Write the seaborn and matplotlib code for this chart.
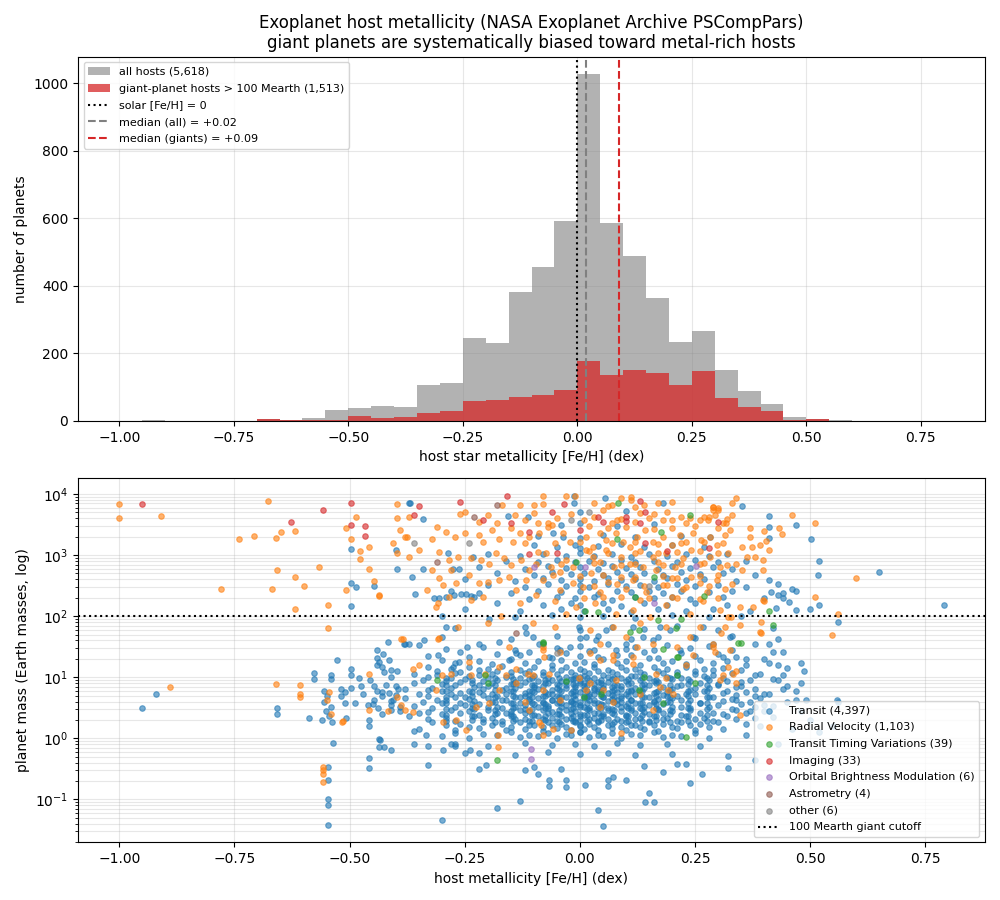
import numpy as np
import pandas as pd
import matplotlib
matplotlib.use("Agg")
import matplotlib.pyplot as plt
import seaborn as sns
from matplotlib.patches import Patch
from matplotlib.lines import Line2D

# ---------------- histogram data (bins of 0.05 dex, left edges) ----------------
bin_left = [-1.00, -0.95, -0.90, -0.85, -0.80, -0.75, -0.70, -0.65, -0.60, -0.55,
            -0.50, -0.45, -0.40, -0.35, -0.30, -0.25, -0.20, -0.15, -0.10, -0.05,
            0.00, 0.05, 0.10, 0.15, 0.20, 0.25, 0.30, 0.35, 0.40, 0.45,
            0.50, 0.55, 0.60, 0.65, 0.70, 0.75]
all_counts = [0, 2, 0, 0, 0, 0, 5, 4, 10, 32,
              39, 45, 40, 105, 113, 247, 231, 383, 456, 593,
              1027, 587, 488, 364, 233, 267, 150, 89, 50, 11,
              5, 2, 0, 0, 0, 0]
giant_counts = [0, 1, 0, 0, 0, 0, 5, 3, 2, 3,
                15, 8, 12, 25, 28, 58, 62, 72, 78, 92,
                178, 136, 152, 141, 105, 149, 69, 42, 28, 4,
                5, 0, 0, 0, 0, 0]
bin_width = 0.05
median_all = 0.02
median_giants = 0.09
n_all = "5,618"
n_giants = "1,513"

# ---------------- scatter data: (host [Fe/H], log10 planet mass [Earth]) ----------------
transit_core = [
    (-0.27,1.80),(-0.12,1.83),(0.00,1.78),(0.07,1.82),(0.14,1.79),(0.21,1.84),(0.30,1.78),(0.42,1.81),
    (-0.30,1.66),(-0.15,1.63),(-0.05,1.68),(0.00,1.64),(0.04,1.67),(0.11,1.62),(0.17,1.66),(0.25,1.64),(0.33,1.68),(0.43,1.63),
    (-0.35,1.53),(-0.21,1.50),(-0.08,1.54),(0.00,1.51),(0.06,1.55),(0.12,1.49),(0.19,1.53),(0.28,1.51),(0.38,1.54),
    (-0.26,1.41),(-0.18,1.38),(-0.11,1.42),(-0.03,1.39),(0.02,1.43),(0.08,1.37),(0.14,1.41),(0.22,1.40),(0.30,1.38),(0.44,1.42),
    (-0.30,1.29),(-0.22,1.26),(-0.15,1.30),(-0.09,1.27),(-0.04,1.29),(0.01,1.25),(0.05,1.30),(0.10,1.27),(0.15,1.31),(0.20,1.26),(0.26,1.29),(0.32,1.27),(0.40,1.30),
    (-0.33,1.16),(-0.28,1.13),(-0.24,1.17),(-0.20,1.14),(-0.17,1.18),(-0.13,1.12),(-0.10,1.16),(-0.06,1.14),(-0.03,1.17),(0.00,1.13),(0.03,1.16),(0.06,1.12),(0.09,1.17),(0.12,1.14),(0.16,1.16),(0.19,1.13),(0.23,1.17),(0.27,1.14),(0.31,1.15),(0.35,1.12),
    (-0.36,1.06),(-0.31,1.03),(-0.27,1.07),(-0.22,1.04),(-0.19,1.06),(-0.15,1.02),(-0.12,1.07),(-0.08,1.04),(-0.05,1.06),(-0.01,1.03),(0.02,1.07),(0.05,1.04),(0.08,1.06),(0.11,1.02),(0.14,1.05),(0.18,1.07),(0.21,1.03),(0.25,1.06),(0.29,1.04),(0.33,1.07),(0.38,1.03),
    (-0.34,0.96),(-0.29,0.93),(-0.25,0.97),(-0.21,0.94),(-0.18,0.96),(-0.14,0.92),(-0.11,0.97),(-0.09,0.94),(-0.06,0.96),(-0.04,0.93),(-0.02,0.97),(0.00,0.94),(0.02,0.96),(0.04,0.92),(0.07,0.97),(0.10,0.94),(0.13,0.96),(0.16,0.93),(0.20,0.97),(0.24,0.94),(0.28,0.96),(0.32,0.93),(0.37,0.95),(0.42,0.97),
    (-0.40,0.86),(-0.32,0.83),(-0.27,0.87),(-0.23,0.84),(-0.20,0.86),(-0.16,0.82),(-0.13,0.87),(-0.10,0.84),(-0.08,0.86),(-0.05,0.83),(-0.03,0.87),(-0.01,0.84),(0.01,0.86),(0.03,0.82),(0.05,0.87),(0.07,0.84),(0.09,0.86),(0.12,0.83),(0.15,0.87),(0.18,0.84),(0.21,0.86),(0.25,0.83),(0.30,0.87),(0.34,0.84),(0.45,0.86),
    (-0.43,0.76),(-0.35,0.73),(-0.30,0.77),(-0.26,0.74),(-0.22,0.76),(-0.19,0.72),(-0.15,0.77),(-0.12,0.74),(-0.10,0.76),(-0.07,0.73),(-0.04,0.77),(-0.02,0.74),(0.00,0.76),(0.02,0.72),(0.04,0.77),(0.06,0.74),(0.08,0.76),(0.10,0.73),(0.13,0.77),(0.16,0.74),(0.19,0.76),(0.23,0.72),(0.27,0.77),(0.31,0.74),(0.36,0.76),(0.40,0.73),
    (-0.38,0.66),(-0.31,0.63),(-0.27,0.67),(-0.24,0.64),(-0.20,0.66),(-0.17,0.62),(-0.14,0.67),(-0.11,0.64),(-0.09,0.66),(-0.06,0.63),(-0.04,0.67),(-0.01,0.64),(0.01,0.66),(0.03,0.62),(0.05,0.67),(0.07,0.64),(0.09,0.66),(0.11,0.63),(0.14,0.67),(0.17,0.64),(0.20,0.66),(0.24,0.62),(0.28,0.67),(0.33,0.64),(0.39,0.66),(0.47,0.63),
    (-0.45,0.56),(-0.36,0.53),(-0.30,0.57),(-0.25,0.54),(-0.22,0.56),(-0.18,0.52),(-0.15,0.57),(-0.12,0.54),(-0.10,0.56),(-0.07,0.53),(-0.05,0.57),(-0.03,0.54),(-0.01,0.56),(0.01,0.52),(0.03,0.57),(0.05,0.54),(0.08,0.56),(0.10,0.53),(0.12,0.57),(0.15,0.54),(0.18,0.56),(0.22,0.52),(0.26,0.57),(0.30,0.54),(0.35,0.56),(0.42,0.53),
    (-0.41,0.46),(-0.33,0.43),(-0.28,0.47),(-0.24,0.44),(-0.20,0.46),(-0.16,0.42),(-0.13,0.47),(-0.11,0.44),(-0.08,0.46),(-0.06,0.43),(-0.03,0.47),(-0.01,0.44),(0.02,0.46),(0.04,0.42),(0.06,0.47),(0.09,0.44),(0.11,0.46),(0.14,0.43),(0.17,0.47),(0.20,0.44),(0.24,0.46),(0.29,0.42),(0.34,0.47),(0.40,0.44),
    (-0.37,0.36),(-0.29,0.33),(-0.23,0.37),(-0.19,0.34),(-0.15,0.36),(-0.12,0.32),(-0.09,0.37),(-0.06,0.34),(-0.04,0.36),(-0.02,0.33),(0.00,0.37),(0.03,0.34),(0.05,0.36),(0.08,0.32),(0.10,0.37),(0.13,0.34),(0.16,0.36),(0.19,0.33),(0.23,0.37),(0.27,0.34),(0.32,0.36),(0.38,0.33),
    (-0.32,0.26),(-0.26,0.23),(-0.21,0.27),(-0.17,0.24),(-0.13,0.26),(-0.10,0.22),(-0.07,0.27),(-0.04,0.24),(-0.01,0.26),(0.02,0.23),(0.04,0.27),(0.07,0.24),(0.10,0.26),(0.12,0.22),(0.15,0.27),(0.18,0.24),(0.22,0.26),(0.26,0.23),(0.30,0.27),(0.36,0.24),
    (-0.35,0.16),(-0.27,0.13),(-0.22,0.17),(-0.16,0.14),(-0.12,0.16),(-0.08,0.12),(-0.05,0.17),(-0.02,0.14),(0.01,0.16),(0.04,0.13),(0.07,0.17),(0.10,0.14),(0.14,0.16),(0.17,0.12),(0.21,0.17),(0.25,0.14),(0.31,0.16),
    (-0.30,0.04),(-0.24,0.01),(-0.18,0.05),(-0.13,0.02),(-0.09,0.04),(-0.05,0.00),(-0.02,0.05),(0.02,0.02),(0.05,0.04),(0.09,0.01),(0.13,0.05),(0.18,0.02),(0.22,0.04),(0.28,0.01),
    (-0.27,-0.09),(-0.20,-0.12),(-0.12,-0.08),(-0.06,-0.11),(-0.01,-0.09),(0.03,-0.13),(0.08,-0.08),(0.13,-0.11),(0.19,-0.09),(0.26,-0.12),
    (-0.22,-0.24),(-0.14,-0.27),(-0.07,-0.23),(0.00,-0.26),(0.06,-0.24),(0.12,-0.28),(0.20,-0.25),
    (-0.02,0.60),(0.02,0.70),(0.06,0.50),(0.00,0.40),(0.04,0.80),(-0.05,0.70),(0.08,0.62),(0.11,0.78),(-0.08,0.58),(0.13,0.50),
    (0.16,0.60),(0.19,0.70),(-0.12,0.70),(-0.15,0.45),(0.00,0.90),(0.00,1.00),(0.00,0.20),(0.00,0.10),(0.00,0.55),(0.00,0.30),
]
transit_core_fill = [
    (-0.31,1.11),(-0.26,1.09),(-0.22,1.12),(-0.18,1.10),(-0.15,1.08),(-0.11,1.11),(-0.08,1.09),(-0.04,1.12),(-0.02,1.08),(0.01,1.10),
    (0.04,1.11),(0.07,1.08),(0.10,1.12),(0.13,1.09),(0.17,1.11),(0.21,1.08),(0.25,1.10),(0.29,1.12),
    (-0.33,1.01),(-0.28,0.99),(-0.24,1.02),(-0.20,0.98),(-0.16,1.01),(-0.13,0.99),(-0.10,1.02),(-0.07,0.98),(-0.03,1.01),(-0.01,0.99),
    (0.01,1.02),(0.03,0.98),(0.06,1.01),(0.09,0.99),(0.12,1.02),(0.15,0.98),(0.19,1.01),(0.22,0.99),(0.27,1.02),(0.31,0.98),
    (-0.36,0.91),(-0.30,0.89),(-0.26,0.92),(-0.22,0.88),(-0.19,0.91),(-0.15,0.89),(-0.12,0.92),(-0.10,0.88),(-0.07,0.91),(-0.05,0.89),
    (-0.03,0.92),(-0.01,0.88),(0.01,0.91),(0.03,0.89),(0.06,0.92),(0.08,0.88),(0.11,0.91),(0.14,0.89),(0.17,0.92),(0.22,0.88),
    (0.26,0.91),(0.30,0.89),(0.35,0.92),
    (-0.38,0.81),(-0.33,0.79),(-0.28,0.82),(-0.24,0.78),(-0.21,0.81),(-0.17,0.79),(-0.14,0.82),(-0.11,0.78),(-0.09,0.81),(-0.06,0.79),
    (-0.03,0.82),(-0.01,0.78),(0.01,0.81),(0.03,0.79),(0.05,0.82),(0.07,0.78),(0.09,0.81),(0.11,0.79),(0.14,0.82),(0.17,0.78),
    (0.20,0.81),(0.24,0.79),(0.28,0.82),(0.32,0.78),(0.38,0.81),
    (-0.40,0.71),(-0.33,0.69),(-0.28,0.72),(-0.25,0.68),(-0.21,0.71),(-0.18,0.69),(-0.16,0.72),(-0.13,0.68),(-0.11,0.71),(-0.08,0.69),
    (-0.06,0.72),(-0.03,0.68),(-0.01,0.71),(0.01,0.69),(0.03,0.72),(0.05,0.68),(0.07,0.71),(0.09,0.69),(0.12,0.72),(0.15,0.68),
    (0.18,0.71),(0.21,0.69),(0.25,0.72),(0.29,0.68),(0.34,0.71),
    (-0.41,0.61),(-0.34,0.59),(-0.29,0.62),(-0.26,0.58),(-0.23,0.61),(-0.19,0.59),(-0.16,0.62),(-0.13,0.58),(-0.11,0.61),(-0.08,0.59),
    (-0.06,0.62),(-0.04,0.58),(-0.02,0.61),(0.00,0.59),(0.02,0.62),(0.04,0.58),(0.06,0.61),(0.09,0.59),(0.11,0.62),(0.13,0.58),
    (0.16,0.61),(0.19,0.59),(0.22,0.62),(0.26,0.58),(0.31,0.61),(0.37,0.59),
    (-0.39,0.51),(-0.32,0.49),(-0.27,0.52),(-0.23,0.48),(-0.20,0.51),(-0.17,0.49),(-0.14,0.52),(-0.12,0.48),(-0.09,0.51),(-0.07,0.49),
    (-0.04,0.52),(-0.02,0.48),(0.00,0.51),(0.02,0.49),(0.04,0.52),(0.07,0.48),(0.09,0.51),(0.11,0.49),(0.14,0.52),(0.17,0.48),
    (0.20,0.51),(0.24,0.49),(0.28,0.52),(0.33,0.48),(0.38,0.51),
    (-0.35,0.41),(-0.30,0.39),(-0.26,0.42),(-0.22,0.38),(-0.18,0.41),(-0.15,0.39),(-0.12,0.42),(-0.10,0.38),(-0.07,0.41),(-0.05,0.39),
    (-0.02,0.42),(0.01,0.38),(0.03,0.41),(0.05,0.39),(0.07,0.42),(0.10,0.38),(0.12,0.41),(0.15,0.39),(0.18,0.42),(0.22,0.38),
    (0.26,0.41),(0.31,0.39),(0.36,0.42),
    (-0.33,0.31),(-0.27,0.29),(-0.21,0.32),(-0.17,0.28),(-0.14,0.31),(-0.11,0.29),(-0.08,0.32),(-0.05,0.28),(-0.03,0.31),(-0.01,0.29),
    (0.02,0.32),(0.04,0.28),(0.06,0.31),(0.09,0.29),(0.12,0.32),(0.15,0.28),(0.18,0.31),(0.21,0.29),(0.25,0.32),(0.29,0.28),(0.34,0.31),
    (-0.29,0.21),(-0.24,0.19),(-0.19,0.22),(-0.15,0.18),(-0.11,0.21),(-0.08,0.19),(-0.06,0.22),(-0.03,0.18),(0.00,0.21),(0.03,0.19),
    (0.06,0.22),(0.09,0.18),(0.11,0.21),(0.13,0.19),(0.16,0.22),(0.20,0.18),(0.24,0.21),(0.28,0.19),
    (-0.27,0.09),(-0.21,0.07),(-0.15,0.10),(-0.11,0.06),(-0.07,0.09),(-0.03,0.07),(0.00,0.10),(0.04,0.06),(0.07,0.09),(0.11,0.07),
    (0.16,0.10),(0.20,0.06),(0.25,0.09),
    (-0.27,1.23),(-0.19,1.21),(-0.12,1.24),(-0.06,1.20),(-0.01,1.23),(0.03,1.21),(0.08,1.24),(0.13,1.20),(0.18,1.23),(0.23,1.21),
    (0.29,1.24),(0.36,1.20),
    (-0.33,1.35),(-0.24,1.33),(-0.13,1.36),(-0.06,1.32),(0.00,1.35),(0.04,1.33),(0.11,1.36),(0.17,1.32),(0.25,1.35),(0.34,1.33),
    (-0.29,1.47),(-0.14,1.45),(-0.05,1.48),(0.03,1.44),(0.10,1.47),(0.16,1.45),(0.24,1.48),(0.33,1.44),
]
transit_core_dense = [
    (-0.290,0.98),(-0.235,0.96),(-0.185,0.99),(-0.145,0.97),(-0.105,0.98),(-0.075,0.96),(-0.045,0.99),(-0.015,0.97),(0.015,0.98),
    (0.045,0.96),(0.075,0.99),(0.105,0.97),(0.135,0.98),(0.165,0.96),(0.195,0.99),(0.235,0.97),(0.275,0.98),
    (-0.290,0.88),(-0.235,0.90),(-0.185,0.87),(-0.145,0.89),(-0.105,0.88),(-0.075,0.90),(-0.045,0.87),(-0.015,0.89),(0.015,0.88),
    (0.045,0.90),(0.075,0.87),(0.105,0.89),(0.135,0.88),(0.165,0.90),(0.195,0.87),(0.235,0.89),(0.275,0.88),
    (-0.290,0.78),(-0.235,0.76),(-0.185,0.79),(-0.145,0.77),(-0.105,0.78),(-0.075,0.76),(-0.045,0.79),(-0.015,0.77),(0.015,0.78),
    (0.045,0.76),(0.075,0.79),(0.105,0.77),(0.135,0.78),(0.165,0.76),(0.195,0.79),(0.235,0.77),(0.275,0.78),
    (-0.290,0.68),(-0.235,0.70),(-0.185,0.67),(-0.145,0.69),(-0.105,0.68),(-0.075,0.70),(-0.045,0.67),(-0.015,0.69),(0.015,0.68),
    (0.045,0.70),(0.075,0.67),(0.105,0.69),(0.135,0.68),(0.165,0.70),(0.195,0.67),(0.235,0.69),(0.275,0.68),
    (-0.290,0.58),(-0.235,0.56),(-0.185,0.59),(-0.145,0.57),(-0.105,0.58),(-0.075,0.56),(-0.045,0.59),(-0.015,0.57),(0.015,0.58),
    (0.045,0.56),(0.075,0.59),(0.105,0.57),(0.135,0.58),(0.165,0.56),(0.195,0.59),(0.235,0.57),(0.275,0.58),
    (-0.290,0.48),(-0.235,0.50),(-0.185,0.47),(-0.145,0.49),(-0.105,0.48),(-0.075,0.50),(-0.045,0.47),(-0.015,0.49),(0.015,0.48),
    (0.045,0.50),(0.075,0.47),(0.105,0.49),(0.135,0.48),(0.165,0.50),(0.195,0.47),(0.235,0.49),(0.275,0.48),
    (-0.290,0.38),(-0.235,0.36),(-0.185,0.39),(-0.145,0.37),(-0.105,0.38),(-0.075,0.36),(-0.045,0.39),(-0.015,0.37),(0.015,0.38),
    (0.045,0.36),(0.075,0.39),(0.105,0.37),(0.135,0.38),(0.165,0.36),(0.195,0.39),(0.235,0.37),(0.275,0.38),
    (-0.290,0.28),(-0.235,0.30),(-0.185,0.27),(-0.145,0.29),(-0.105,0.28),(-0.075,0.30),(-0.045,0.27),(-0.015,0.29),(0.015,0.28),
    (0.045,0.30),(0.075,0.27),(0.105,0.29),(0.135,0.28),(0.165,0.30),(0.195,0.27),(0.235,0.29),(0.275,0.28),
]
transit_giant = [
    (0.00,3.70),(0.10,3.72),
    (-0.04,3.49),(0.00,3.52),(0.08,3.47),(0.16,3.51),
    (-0.09,3.31),(0.00,3.28),(0.05,3.33),(0.12,3.29),(0.22,3.32),
    (-0.10,3.16),(-0.05,3.13),(-0.01,3.17),(0.00,3.12),(0.04,3.15),(0.09,3.18),(0.14,3.13),(0.20,3.16),(0.27,3.14),
    (-0.20,3.01),(-0.13,2.98),(-0.08,3.02),(-0.03,2.99),(0.00,3.03),(0.03,2.98),(0.07,3.01),(0.11,2.97),(0.15,3.02),(0.19,2.99),(0.23,3.01),(0.28,2.98),(0.32,3.02),
    (-0.16,2.91),(-0.09,2.88),(-0.05,2.92),(-0.01,2.89),(0.02,2.91),(0.05,2.87),(0.09,2.92),(0.12,2.89),(0.16,2.91),(0.21,2.88),(0.25,2.92),(0.30,2.89),(0.36,2.90),
    (-0.22,2.81),(-0.12,2.78),(-0.07,2.82),(-0.03,2.79),(0.00,2.81),(0.04,2.77),(0.07,2.82),(0.10,2.79),(0.13,2.81),(0.17,2.78),(0.20,2.82),(0.24,2.79),(0.29,2.81),(0.33,2.78),
    (-0.18,2.71),(-0.10,2.68),(-0.06,2.72),(-0.02,2.69),(0.01,2.71),(0.05,2.67),(0.08,2.72),(0.11,2.69),(0.14,2.71),(0.18,2.68),(0.22,2.72),(0.26,2.69),(0.31,2.71),(0.38,2.68),
    (-0.25,2.61),(-0.14,2.58),(-0.08,2.62),(-0.04,2.59),(0.00,2.61),(0.03,2.57),(0.06,2.62),(0.09,2.59),(0.12,2.61),(0.16,2.58),(0.19,2.62),(0.23,2.59),(0.27,2.61),(0.34,2.58),(0.41,2.60),
    (-0.20,2.51),(-0.12,2.48),(-0.07,2.52),(-0.03,2.49),(0.00,2.51),(0.02,2.47),(0.06,2.52),(0.10,2.49),(0.13,2.51),(0.17,2.48),(0.21,2.52),(0.25,2.49),(0.30,2.51),(0.36,2.48),
    (-0.28,2.41),(-0.15,2.38),(-0.09,2.42),(-0.04,2.39),(0.00,2.41),(0.04,2.37),(0.08,2.42),(0.11,2.39),(0.15,2.41),(0.18,2.38),(0.22,2.42),(0.28,2.39),(0.33,2.41),(0.44,2.38),
    (-0.23,2.31),(-0.11,2.28),(-0.05,2.32),(-0.01,2.29),(0.03,2.31),(0.07,2.27),(0.12,2.32),(0.16,2.29),(0.20,2.31),(0.24,2.28),(0.31,2.32),(0.40,2.29),
    (-0.18,2.21),(-0.08,2.18),(-0.02,2.22),(0.00,2.19),(0.05,2.21),(0.09,2.17),(0.14,2.22),(0.19,2.19),(0.25,2.21),(0.32,2.18),
    (-0.25,2.11),(-0.13,2.08),(-0.04,2.12),(0.01,2.09),(0.06,2.11),(0.11,2.07),(0.17,2.12),(0.23,2.09),(0.29,2.11),(0.37,2.08),
    (-0.30,2.01),(-0.14,1.98),(-0.06,2.02),(0.00,1.99),(0.05,2.01),(0.12,1.97),(0.20,2.02),(0.28,1.99),(0.35,2.01),
    (-0.37,3.86),(-0.34,3.59),(-0.287,3.04),(-0.34,2.77),(-0.365,2.64),(-0.358,2.37),(-0.316,2.30),(-0.305,2.29),(-0.291,2.32),
    (-0.273,2.34),(-0.258,2.36),(-0.247,2.37),(-0.236,2.33),(-0.218,2.38),(-0.276,2.78),(-0.263,2.78),(-0.233,2.97),(-0.157,3.64),
    (-0.113,3.63),(-0.059,3.36),(-0.037,3.30),(-0.012,3.85),(-0.012,3.96),(0.054,3.94),(0.18,3.85),(0.282,3.30),
    (-0.381,1.55),(-0.371,1.55),(-0.339,1.61),(-0.309,1.36),(-0.291,1.83),(-0.276,1.17),(-0.262,1.25),(-0.244,1.50),(-0.218,1.55),
    (-0.197,1.96),(-0.175,1.58),(-0.153,1.28),(-0.139,1.39),(-0.117,1.72),(-0.102,1.66),(-0.088,1.55),(-0.066,1.33),(-0.044,1.44),
    (-0.022,1.50),(-0.001,1.83),(0.014,1.66),(0.036,1.61),(0.057,1.77),(0.079,1.44),(0.101,1.55),(0.115,1.83),(0.137,1.66),
    (0.159,1.61),(0.173,1.83),(0.195,1.77),(0.217,1.44),(0.246,1.66),(0.268,1.83),(0.289,1.55),(0.311,1.33),(0.326,1.66),
]
transit_halo = [
    (-0.920,0.72),(-0.950,0.50),(-0.657,0.50),(-0.657,0.40),(-0.588,0.34),(-0.528,1.28),(-0.578,1.07),(-0.578,0.97),
    (-0.541,1.03),(-0.541,0.97),(-0.537,-0.07),(-0.547,-0.47),(-0.547,-0.69),(-0.547,-1.00),(-0.547,-1.09),(-0.547,-1.42),
    (-0.497,1.14),(-0.497,1.03),(-0.480,0.99),(-0.497,0.83),(-0.518,0.81),(-0.510,0.75),(-0.518,0.69),(-0.510,0.57),
    (-0.508,0.34),(-0.458,-0.33),(-0.458,-0.49),(-0.458,0.30),(-0.458,0.20),(-0.437,-0.01),(-0.433,-0.02),(-0.437,-0.15),
    (-0.425,-0.15),(-0.410,-0.19),
    (-0.555,0.77),(-0.548,0.70),(-0.556,0.60),(-0.540,0.52),(-0.552,0.45),(-0.545,0.36),(-0.560,0.30),(-0.538,0.27),
    (-0.455,0.95),(-0.447,0.85),(-0.440,0.78),(-0.430,0.70),(-0.447,0.62),(-0.460,0.55),(-0.438,0.50),(-0.420,0.88),
    (-0.415,0.74),(-0.405,0.63),(-0.410,0.54),(-0.395,0.80),(-0.390,0.44),(-0.430,0.40),(-0.475,0.86),(-0.470,0.72),
    (-0.488,0.58),(-0.410,1.00),(-0.398,1.10),(-0.440,1.45),(-0.440,1.32),(-0.428,1.38),(-0.417,1.58),(-0.380,1.54),
    (-0.437,1.25),(-0.440,1.20),(-0.430,1.17),(-0.415,1.28),(-0.425,1.09),(-0.410,1.12),
    (-0.497,3.10),(-0.400,3.09),(-0.396,2.77),(-0.497,2.54),(-0.487,2.47),(-0.447,2.49),(-0.497,2.16),(-0.369,3.86),
    (-0.330,-0.44),(-0.300,-1.33),(-0.180,-1.14),(-0.129,-1.02),(-0.220,-0.50),(-0.204,-0.43),(0.040,-1.18),(0.050,-1.43),
    (0.150,-0.89),(0.141,-1.05),(0.161,-1.05),(0.240,-0.73),(0.265,-0.58),(0.322,-0.29),(0.322,-0.49),(0.230,-0.42),
    (0.210,-0.42),(-0.068,-0.78),(-0.068,-0.69),(-0.030,-0.80),(-0.030,-0.68),(0.011,-0.77),(0.061,-0.78),(0.061,-0.68),
    (0.072,-0.63),(0.100,-0.69),(0.180,-0.56),(0.140,-0.46),(-0.120,-0.52),(-0.100,-0.47),(-0.090,-0.58),(-0.040,-0.51),
    (-0.238,-0.19),(-0.270,-0.13),(-0.280,-0.10),(-0.250,-0.24),(-0.360,0.12),(-0.360,-0.09),(-0.334,0.05),(-0.330,-0.13),
    (-0.298,-0.19),
    (0.351,3.80),(0.411,3.64),(0.411,3.46),(0.411,3.28),(0.470,3.50),(0.501,3.27),(0.520,2.90),(0.516,2.67),
    (0.650,2.73),(0.790,2.19),(0.520,2.19),(0.500,2.11),(0.470,2.10),(0.455,2.23),(0.560,1.91),(0.460,2.45),
    (0.470,2.41),(0.430,2.53),(0.430,2.34),(0.440,2.29),(0.415,2.39),(0.425,2.13),(0.480,1.24),(0.487,1.11),
    (0.480,0.91),(0.430,1.20),(0.440,1.04),(0.440,0.80),(0.430,0.95),(0.559,0.63),(0.410,1.55),(0.420,1.42),
    (0.410,1.24),(0.350,0.85),(0.380,0.70),(0.400,0.55),(0.370,0.45),(0.420,0.35),(0.450,0.60),(0.480,0.45),
    (0.500,0.30),(0.460,0.15),(0.390,0.20),(0.360,0.05),(0.430,-0.10),(0.520,0.10),(0.550,0.20),(0.410,0.72),
    (0.470,0.78),(0.340,0.62),(0.360,1.30),(0.390,1.05),(0.450,1.15),(0.490,0.62),(0.560,0.60),(0.380,-0.35),
]
rv_outer = [
    (-1.000,3.83),(-1.000,3.60),(-0.909,3.64),(-0.678,3.88),(-0.739,3.26),(-0.708,3.32),(-0.659,3.28),(-0.649,3.38),
    (-0.618,3.40),(-0.657,2.75),(-0.618,2.64),(-0.567,2.80),(-0.598,2.50),(-0.669,2.44),(-0.779,2.45),(-0.547,2.19),
    (-0.618,2.11),(-0.547,1.80),(-0.508,2.43),(-0.508,3.44),(-0.487,3.62),(-0.497,3.27),(-0.477,3.06),(-0.477,2.93),
    (-0.458,3.13),(-0.458,2.78),(-0.447,2.57),(-0.437,2.33),(-0.435,2.35),(-0.396,3.83),(-0.396,3.61),(-0.406,3.20),
    (-0.396,3.03),(-0.376,3.29),(-0.385,1.63),
    (0.461,3.66),(0.510,3.52),(0.600,2.63),(0.510,2.32),(0.560,2.04),(0.547,1.69),(0.432,3.45),(0.438,3.35),
    (0.411,3.08),(0.400,3.39),(0.405,3.23),(0.370,3.44),(0.370,3.30),(0.373,3.14),(0.391,3.16),(0.398,2.92),
    (0.400,2.25),(0.393,1.91),(0.393,1.72),(0.340,3.93),(0.331,3.86),(0.289,3.78),(0.300,3.74),(0.293,3.66),
    (0.278,3.57),(0.318,3.52),(0.325,3.41),(0.351,3.14),(0.362,2.97),(0.340,2.86),(0.351,2.75),(0.380,2.97),
    (0.398,2.75),(0.398,2.26),(0.376,2.15),(0.347,2.15),(0.329,1.99),(0.391,1.74),(0.347,1.85),(0.307,1.72),
    (0.289,1.50),(0.325,1.44),(0.340,1.11),(0.304,0.95),
]
rv_giant = [
    (-0.17,3.82),(-0.13,3.82),(-0.10,3.82),(-0.08,3.97),(-0.08,3.83),(-0.03,3.97),(-0.01,3.96),(0.03,3.85),(0.06,3.80),(0.07,3.82),
    (0.09,3.93),(0.11,3.90),(0.11,3.95),(0.12,3.79),(0.14,3.82),(0.17,3.86),(0.20,3.87),(0.26,3.92),(0.29,3.78),(0.30,3.77),
    (-0.37,3.63),(-0.26,3.68),(-0.25,3.71),(-0.22,3.55),(-0.20,3.66),(-0.18,3.52),(-0.14,3.66),(-0.12,3.57),(-0.10,3.69),(-0.09,3.52),
    (-0.07,3.53),(-0.06,3.49),(-0.02,3.68),(0.01,3.57),(0.05,3.74),(0.07,3.53),(0.08,3.57),(0.12,3.55),(0.13,3.69),(0.16,3.68),
    (0.19,3.71),(0.20,3.57),(0.22,3.63),(0.23,3.52),(0.26,3.57),(0.28,3.63),(0.29,3.74),(0.31,3.52),(0.33,3.66),
    (-0.39,3.41),(-0.38,3.30),(-0.32,3.27),(-0.31,3.46),(-0.29,3.38),(-0.27,3.30),(-0.25,3.36),(-0.22,3.33),(-0.21,3.22),(-0.19,3.41),
    (-0.175,3.27),(-0.146,3.22),(-0.131,3.36),(-0.11,3.30),(-0.088,3.36),(-0.07,3.46),(-0.055,3.19),(-0.037,3.36),(-0.022,3.22),(0.014,3.30),
    (0.028,3.14),(0.043,3.36),(0.057,3.25),(0.079,3.36),(0.094,3.22),(0.108,3.14),(0.123,3.30),(0.141,3.41),(0.159,3.22),(0.181,3.30),
    (0.199,3.16),(0.217,3.33),(0.231,3.22),(0.246,3.36),(0.264,3.25),(0.282,3.30),(0.297,3.16),(0.315,3.33),
    (-0.371,2.97),(-0.349,3.08),(-0.305,3.05),(-0.284,2.92),(-0.265,2.97),(-0.236,2.95),(-0.215,2.92),(-0.197,2.86),(-0.182,3.03),(-0.164,2.95),
    (-0.149,2.84),(-0.128,2.92),(-0.110,2.75),(-0.095,2.86),(-0.073,3.03),(-0.062,2.81),(-0.044,2.73),(-0.030,2.92),(-0.015,2.81),(0.014,3.08),
    (0.028,2.97),(0.043,2.89),(0.057,3.08),(0.075,2.81),(0.090,2.97),(0.108,2.86),(0.119,3.03),(0.137,2.81),(0.159,2.97),(0.170,2.89),
    (0.188,3.03),(0.206,2.81),(0.224,2.95),(0.242,3.08),(0.260,2.86),(0.282,2.97),(0.304,2.81),(0.322,3.03),
    (-0.331,2.43),(-0.320,2.75),(-0.305,2.62),(-0.298,2.51),(-0.280,2.75),(-0.269,2.54),(-0.240,2.67),(-0.218,2.54),(-0.200,2.56),(-0.175,2.59),
    (-0.153,2.64),(-0.139,2.43),(-0.117,2.59),(-0.080,2.59),(-0.059,2.67),(-0.044,2.43),(-0.015,2.54),(0.007,2.48),(0.025,2.70),(0.043,2.40),
    (0.061,2.56),(0.090,2.64),(0.101,2.45),(0.115,2.59),(0.144,2.40),(0.166,2.75),(0.181,2.51),(0.199,2.62),(0.224,2.45),(0.242,2.64),
    (0.260,2.54),(0.275,2.40),(0.297,2.59),(0.315,2.45),
    (-0.313,2.15),(-0.309,2.21),(-0.284,2.32),(-0.236,2.26),(-0.211,2.32),(-0.171,2.00),(-0.131,2.21),(-0.095,2.34),(-0.055,2.24),(-0.030,2.04),
    (-0.008,2.15),(0.032,2.21),(0.050,2.32),(0.079,2.04),(0.115,2.10),(0.130,2.26),(0.152,1.99),(0.188,2.18),(0.210,2.29),(0.239,2.04),
    (0.268,2.24),(0.304,2.10),(0.322,1.99),
    (-0.389,1.63),(-0.309,1.63),(-0.305,1.65),(-0.265,1.83),(-0.200,1.88),(-0.153,1.50),(-0.102,1.88),(-0.080,1.50),(-0.055,1.83),(-0.044,1.42),
    (0.021,1.77),(0.043,1.55),(0.072,1.83),(0.101,1.66),(0.115,1.33),(0.130,1.88),(0.159,1.55),(0.188,1.83),(0.210,1.50),(0.239,1.66),
    (0.260,1.83),(0.289,1.55),(0.315,1.83),
]
rv_giant_fill = [
    (-0.05,3.60),(0.03,3.62),(0.09,3.59),(0.15,3.61),(0.18,3.58),(0.24,3.60),(0.27,3.62),(0.32,3.59),
    (-0.15,3.45),(0.02,3.47),(0.06,3.44),(0.10,3.46),(0.16,3.43),(0.20,3.45),(0.25,3.47),(0.30,3.44),
    (-0.12,3.20),(0.00,3.22),(0.07,3.19),(0.12,3.21),(0.17,3.18),(0.22,3.20),(0.27,3.22),(0.31,3.19),
    (-0.09,3.05),(0.02,3.07),(0.06,3.04),(0.13,3.06),(0.17,3.03),(0.21,3.05),(0.26,3.07),(0.30,3.04),
    (-0.04,2.85),(0.03,2.87),(0.09,2.84),(0.12,2.86),(0.18,2.83),(0.22,2.85),(0.27,2.87),(0.32,2.84),
    (0.00,2.65),(0.05,2.67),(0.12,2.64),(0.18,2.66),(0.21,2.63),(0.26,2.65),(0.30,2.67),
    (0.03,2.50),(0.08,2.52),(0.14,2.49),(0.19,2.51),(0.23,2.48),(0.28,2.50),(0.33,2.52),
    (0.01,2.30),(0.09,2.32),(0.15,2.29),(0.20,2.31),(0.26,2.28),(0.30,2.30),
]
rv_low = [
    (-0.889,0.84),(-0.659,0.89),(-0.608,0.88),(-0.608,0.72),(-0.608,0.67),(-0.558,-0.47),(-0.558,-0.52),(-0.558,-0.58),
    (-0.558,-0.72),(-0.517,0.27),(-0.515,0.28),(-0.458,1.05),(-0.458,0.46),(-0.396,0.68),(-0.417,0.44),(-0.545,0.75),
    (-0.548,0.62),(-0.540,0.40),
    (-0.349,1.20),(-0.362,1.14),(-0.300,1.03),(-0.280,1.06),(-0.240,1.25),(-0.236,1.03),(-0.207,1.06),(-0.175,1.17),
    (-0.160,1.03),(-0.139,1.14),(-0.080,1.44),(-0.077,1.33),(-0.080,0.79),(-0.113,1.06),(-0.102,1.03),(-0.120,0.60),
    (-0.111,0.46),(-0.088,0.27),(-0.084,0.21),(-0.178,0.05),(-0.178,-0.14),(-0.247,0.13),(-0.269,0.30),(-0.298,0.27),
    (-0.389,0.54),(-0.379,0.46),(-0.363,0.43),(-0.059,0.16),(-0.080,0.05),(-0.019,0.13),(0.021,1.39),(0.043,1.28),
    (0.072,1.36),(0.115,1.22),(0.123,1.50),(-0.001,0.98),(0.021,0.90),(0.050,0.79),(0.072,0.60),(0.090,0.08),
    (0.166,1.06),(0.188,0.98),(0.173,0.84),(0.191,0.79),(0.231,1.20),(0.246,1.36),(0.293,1.42),(0.322,1.17),
    (0.333,1.06),(0.311,1.03),(0.340,0.90),(0.347,0.38),(-0.139,0.90),(-0.175,0.79),(-0.197,0.57),(-0.044,0.62),
    (0.043,0.51),(0.014,0.79),(0.079,0.95),(0.130,0.73),(0.159,0.46),(0.202,0.73),(0.072,1.28),(-0.066,1.06),
    (-0.226,0.51),(-0.313,0.79),
]
ttv_pts = [
    (-0.18,-0.36),(-0.31,0.96),(-0.207,1.03),(-0.20,0.90),(-0.08,1.58),(-0.03,0.94),(0.01,0.68),(0.046,0.73),
    (0.128,0.79),(0.14,1.00),(0.18,0.57),(0.21,1.33),(0.21,1.03),(0.25,0.90),(0.35,1.56),(0.231,0.02),
    (0.083,3.85),(0.24,3.66),(0.177,3.37),(0.08,3.27),(-0.008,2.89),(0.16,2.64),(0.12,2.32),(0.27,2.33),
    (0.012,2.09),(0.04,2.07),(0.17,1.93),(0.208,1.81),(0.22,1.95),(-0.08,1.56),(0.108,1.74),(0.128,1.77),
    (0.18,1.47),(0.213,1.33),(0.41,2.08),(0.42,1.85),(0.343,1.56),
]
imaging_pts = [
    (-0.95,3.83),(-0.628,3.55),(-0.558,3.74),(-0.497,3.86),(-0.497,3.50),(-0.467,3.48),(-0.467,3.31),(-0.35,3.81),
    (-0.36,3.65),(-0.26,3.87),(-0.159,3.97),(-0.21,3.57),(-0.149,3.53),(-0.06,3.70),(-0.035,3.84),(-0.11,3.38),
    (0.00,3.41),(0.04,3.63),(0.05,3.55),(0.10,3.63),(0.10,3.56),(0.13,3.88),(0.142,3.71),(0.13,3.53),
    (0.142,3.20),(0.30,3.55),(0.28,3.11),(0.19,3.06),(-0.11,3.02),(-0.05,3.03),
]
obm_pts = [(-0.106,-0.17),(-0.106,-0.34),(-0.10,2.81),(0.012,2.81),(0.253,2.82),(0.162,2.21)]
astrometry_pts = [(-0.229,3.62),(-0.18,3.82),(-0.31,2.89),(-0.138,1.72)]
other_pts = [(-0.36,3.20),(-0.019,3.58),(-0.24,3.19),(0.02,3.70),(0.15,2.50),(-0.05,1.40)]

method_labels = ["Transit (4,397)", "Radial Velocity (1,103)", "Transit Timing Variations (39)",
                 "Imaging (33)", "Orbital Brightness Modulation (6)", "Astrometry (4)", "other (6)"]
method_colors = ["tab:blue", "tab:orange", "tab:green", "tab:red", "tab:purple", "tab:brown", "tab:gray"]
giant_cut = 100

series = [transit_core + transit_core_fill + transit_core_dense + transit_giant + transit_halo,
          rv_outer + rv_giant + rv_giant_fill + rv_low,
          ttv_pts, imaging_pts, obm_pts, astrometry_pts, other_pts]

rows = []
for lab, pts in zip(method_labels, series):
    for feh, lm in pts:
        rows.append((lab, feh, 10 ** lm))
df = pd.DataFrame(rows, columns=["method", "feh", "mass"])

hist_df = pd.DataFrame({
    "center": [round(b + bin_width / 2, 3) for b in bin_left],
    "all": all_counts,
    "giants": giant_counts,
})
edges = [round(b, 2) for b in bin_left] + [round(bin_left[-1] + bin_width, 2)]

# ---------------- figure ----------------
fig, (ax1, ax2) = plt.subplots(2, 1, figsize=(10, 9), dpi=100)
fig.subplots_adjust(left=0.078, right=0.985, top=0.937, bottom=0.064, hspace=0.157)

sns.histplot(data=hist_df, x="center", weights="all", bins=edges, color="gray",
             alpha=0.6, linewidth=0, ax=ax1)
sns.histplot(data=hist_df, x="center", weights="giants", bins=edges, color="tab:red",
             alpha=0.75, linewidth=0, ax=ax1)
ax1.axvline(0, color="black", ls=":", lw=1.5)
ax1.axvline(median_all, color="gray", ls="--", lw=1.5)
ax1.axvline(median_giants, color="tab:red", ls="--", lw=1.5)
ax1.set_xlim(-1.09, 0.89)
ax1.set_xlabel("host star metallicity [Fe/H] (dex)")
ax1.set_ylabel("number of planets")
ax1.grid(True, alpha=0.3)
ax1.set_axisbelow(True)
ax1.set_title("Exoplanet host metallicity (NASA Exoplanet Archive PSCompPars)\n"
              "giant planets are systematically biased toward metal-rich hosts", fontsize=12)
h1 = [Patch(facecolor="gray", alpha=0.6),
      Patch(facecolor="tab:red", alpha=0.75),
      Line2D([], [], color="black", ls=":", lw=1.5),
      Line2D([], [], color="gray", ls="--", lw=1.5),
      Line2D([], [], color="tab:red", ls="--", lw=1.5)]
l1 = [f"all hosts ({n_all})", f"giant-planet hosts > 100 Mearth ({n_giants})",
      "solar [Fe/H] = 0", f"median (all) = {median_all:+.2f}",
      f"median (giants) = {median_giants:+.2f}"]
ax1.legend(h1, l1, loc="upper left", fontsize=8, labelspacing=0.62)

for lab, col in zip(method_labels, method_colors):
    sub = df[df["method"] == lab]
    sns.scatterplot(x=sub["feh"].to_numpy(), y=sub["mass"].to_numpy(), color=col, s=16,
                    alpha=0.6, edgecolor="face", linewidth=0.8, label=lab, ax=ax2)
ax2.set_yscale("log")
ax2.axhline(giant_cut, color="black", ls=":", lw=1.5, label="100 Mearth giant cutoff")
ax2.set_xlim(-1.0895, 0.8795)
ax2.set_ylim(10 ** -1.705, 10 ** 4.26)
ax2.grid(True, which="both", alpha=0.3)
ax2.set_axisbelow(True)
ax2.set_xlabel("host metallicity [Fe/H] (dex)")
ax2.set_ylabel("planet mass (Earth masses, log)")
ax2.legend(loc="lower right", fontsize=8, labelspacing=0.6)

fig.savefig("out.png", dpi=100)
